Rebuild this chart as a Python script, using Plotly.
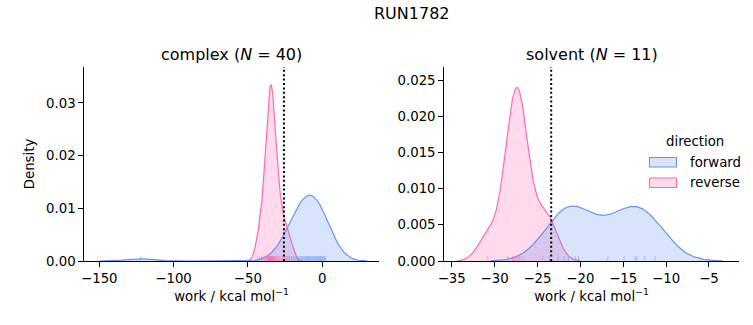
import numpy as np
import plotly.graph_objects as go

# ---- data (work values in kcal/mol) ----
complex_forward = [-122.4, -25.0, -23.5, -22.0, -20.8, -19.5, -18.5, -17.5, -16.6, -15.8,
                   -15.0, -14.3, -13.6, -12.9, -12.2, -11.6, -11.0, -10.4, -9.8, -9.2,
                   -8.6, -8.0, -7.4, -6.8, -6.2, -5.6, -5.0, -4.4, -3.8, -3.2,
                   -2.6, -2.0, -1.5, -1.0, -0.5, 0.0, 0.6, 1.2, 1.8, 2.4]
complex_reverse = [-43.5, -42.0, -40.8, -39.8, -39.0, -38.3, -37.7, -37.2, -36.8, -36.4,
                   -36.1, -35.8, -35.6, -35.4, -35.2, -35.0, -34.8, -34.6, -34.4, -34.2,
                   -34.0, -33.8, -33.6, -33.4, -33.1, -32.8, -32.5, -32.1, -31.7, -31.2,
                   -30.7, -30.1, -29.4, -28.6, -27.7, -26.7, -25.5, -24.0, -22.4, -20.6]
solvent_forward = [-22.6, -21.9, -21.4, -20.6, -20.2, -16.8, -14.9, -13.6, -13.4, -12.5, -11.3]
solvent_reverse = [-30.8, -28.5, -27.9, -27.7, -27.5, -27.3, -27.1, -26.9, -26.6, -24.4, -23.6]
complex_dg = -25.7
solvent_dg = -23.4
directions = ["forward", "reverse"]

N_ALL = len(complex_forward) + len(complex_reverse) + len(solvent_forward) + len(solvent_reverse)

BLUE = "#6495ED"
PINK = "#FF69B4"
COLORS = {"forward": BLUE, "reverse": PINK}
FILLS = {"forward": "rgba(100,149,237,0.25)", "reverse": "rgba(255,105,180,0.25)"}


def kde(samples, cut=3, gridsize=200):
    x = np.asarray(samples, float)
    n = len(x)
    bw = x.std(ddof=1) * n ** (-1 / 5)
    grid = np.linspace(x.min() - cut * bw, x.max() + cut * bw, gridsize)
    dens = np.exp(-0.5 * ((grid[:, None] - x[None, :]) / bw) ** 2).sum(1) / (n * bw * np.sqrt(2 * np.pi))
    return grid, dens * n / N_ALL


FONT = "DejaVu Sans"
fig = go.Figure()

panels = [
    ("x", "y", {"forward": complex_forward, "reverse": complex_reverse}, complex_dg),
    ("x2", "y2", {"forward": solvent_forward, "reverse": solvent_reverse}, solvent_dg),
]

shapes = []
for pi, (xa, ya, groups, dg) in enumerate(panels):
    for d in ["reverse", "forward"]:
        gx, gy = kde(groups[d])
        fig.add_trace(go.Scatter(
            x=gx, y=gy, mode="lines", fill="tozeroy", fillcolor=FILLS[d],
            line=dict(color=COLORS[d], width=1.2), name=d, showlegend=False,
            xaxis=xa, yaxis=ya, hoverinfo="skip"))
    # rug
    for d in directions:
        for v in groups[d]:
            shapes.append(dict(type="line", xref=xa, yref=ya + " domain", x0=v, x1=v, y0=0, y1=0.025,
                               line=dict(color=COLORS[d], width=1), opacity=0.5, layer="above"))
    shapes.append(dict(type="line", xref=xa, yref=ya + " domain", x0=dg, x1=dg, y0=0, y1=1,
                       line=dict(color="black", width=2, dash="2px,2.4px"), layer="above"))

L, R, T, B = 84, 14, 67, 64
W, H = 753, 325
pw, ph = W - L - R, H - T - B
dom1 = [0, (379 - L) / pw]
dom2 = [(444 - L) / pw, 1]


def px(xp):
    return (xp - L) / pw


def py(yp):
    return (H - B - yp) / ph


# manual legend (matplotlib-style patches)
annotations = [
    dict(text="direction", x=px(695), y=py(141), xref="paper", yref="paper", showarrow=False,
         xanchor="center", yanchor="middle", font=dict(size=13.3)),
]
for i, d in enumerate(directions):
    y0, y1 = 157.5 + 20.5 * i, 167.0 + 20.5 * i
    shapes.append(dict(type="rect", xref="paper", yref="paper", x0=px(649.5), x1=px(676.5),
                       y0=py(y1), y1=py(y0), fillcolor=FILLS[d],
                       line=dict(color=COLORS[d], width=1.1)))
    annotations.append(dict(text=d, x=px(688), y=py((y0 + y1) / 2), xref="paper", yref="paper",
                            showarrow=False, xanchor="left", yanchor="middle", font=dict(size=13.3)))

annotations += [
    dict(text="RUN1782", x=0.5, xref="paper", y=py(13), yref="paper", showarrow=False,
         xanchor="center", yanchor="middle", font=dict(size=16)),
    dict(text="complex (<i>N</i> = 40)", xref="paper", yref="paper",
         x=(dom1[0] + dom1[1]) / 2, y=py(54), showarrow=False, font=dict(size=16),
         xanchor="center", yanchor="middle"),
    dict(text="solvent (<i>N</i> = 11)", xref="paper", yref="paper",
         x=(dom2[0] + dom2[1]) / 2, y=py(54), showarrow=False, font=dict(size=16),
         xanchor="center", yanchor="middle"),
]

axis_common = dict(showline=True, linecolor="black", linewidth=1.07, ticks="outside", ticklen=4.7,
                   tickwidth=1.07, tickcolor="black", showgrid=False, zeroline=False,
                   tickfont=dict(family=FONT, size=13.3, color="black"), mirror=False)

fig.update_layout(
    width=W, height=H, margin=dict(l=L, r=R, t=T, b=B),
    plot_bgcolor="white", paper_bgcolor="white",
    font=dict(family=FONT, color="black"),
    showlegend=False,
    xaxis=dict(domain=dom1, range=[-160.3, 38.3], tickvals=[-150, -100, -50, 0],
               title=dict(text="work / kcal mol<sup>−1</sup>", font=dict(size=13.3), standoff=6),
               anchor="y", **axis_common),
    yaxis=dict(domain=[0, 1], range=[0, 0.0368], tickvals=[0, 0.01, 0.02, 0.03], tickformat=".2f",
               title=dict(text="Density", font=dict(size=13.3), standoff=8), anchor="x", **axis_common),
    xaxis2=dict(domain=dom2, range=[-35.9, -1.5], tickvals=[-35, -30, -25, -20, -15, -10, -5],
                title=dict(text="work / kcal mol<sup>−1</sup>", font=dict(size=13.3), standoff=6),
                anchor="y2", **axis_common),
    yaxis2=dict(domain=[0, 1], range=[0, 0.0268], tickvals=[0, 0.005, 0.01, 0.015, 0.02, 0.025],
                tickformat=".3f", anchor="x2", **axis_common),
    shapes=shapes,
    annotations=annotations,
)

fig.write_html("out.html")
